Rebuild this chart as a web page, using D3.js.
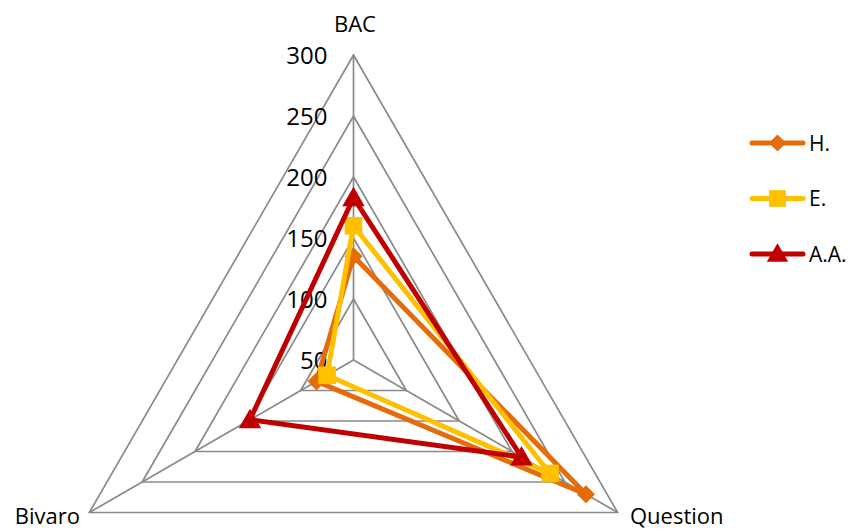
<!DOCTYPE html>
<html>
<head>
<meta charset="utf-8">
<script src="https://cdn.jsdelivr.net/npm/d3@7"></script>
<style>
  html, body { margin: 0; padding: 0; background: #fff; }
  svg { display: block; }
  text { font-family: "Open Sans", "DejaVu Sans", sans-serif; fill: #000; }
</style>
</head>
<body>
<svg id="chart" width="856" height="531"></svg>
<script>
// ---- data ----
const axes = ["BAC", "Question", "Bivaro"];
const seriesNames = ["H.", "E.", "A.A."];
const seriesH = [135, 270, 85];
const seriesE = [160, 236, 75];
const seriesAA = [183, 209, 148];
const tickValues = [50, 100, 150, 200, 250, 300];

// ---- styles ----
const colors = ["#E46C0A", "#FFC000", "#C00000"];
const symbols = [d3.symbolDiamond2, d3.symbolSquare, d3.symbolTriangle];
const symbolSizes = [210, 310, 220];

const svg = d3.select("#chart");
const cx = 353.5, cy = 360, R = 305;
const r = d3.scaleLinear().domain([50, 300]).range([0, R]);
const angle = d3.scaleOrdinal().domain(axes).range(axes.map((d, i) => -Math.PI / 2 + i * 2 * Math.PI / 3));

function pt(axis, v) {
  const a = angle(axis);
  return [cx + r(v) * Math.cos(a), cy + r(v) * Math.sin(a)];
}

const g = svg.append("g");

// rings
tickValues.slice(1).forEach(t => {
  const pts = axes.map(a => pt(a, t));
  g.append("path")
    .attr("d", d3.line()(pts) + "Z")
    .attr("fill", "none")
    .attr("stroke", "#8A8A8A")
    .attr("stroke-width", 1.7);
});
// spokes
axes.forEach(a => {
  const p = pt(a, 300);
  g.append("line")
    .attr("x1", cx).attr("y1", cy)
    .attr("x2", p[0]).attr("y2", p[1])
    .attr("stroke", "#8A8A8A")
    .attr("stroke-width", 1.7);
});

// tick labels
tickValues.forEach(t => {
  g.append("text")
    .attr("x", cx - 26)
    .attr("y", cy - r(t))
    .attr("dy", "0.36em")
    .attr("text-anchor", "end")
    .attr("font-size", 24)
    .text(t);
});

// axis labels
const labelPos = {
  "BAC": { x: 355, y: 32, anchor: "middle" },
  "Question": { x: 630, y: 524, anchor: "start" },
  "Bivaro": { x: 80, y: 524, anchor: "end" }
};
axes.forEach(a => {
  const lp = labelPos[a];
  g.append("text")
    .attr("x", lp.x).attr("y", lp.y)
    .attr("text-anchor", lp.anchor)
    .attr("font-size", 22)
    .text(a);
});

// series
const allSeries = [seriesH, seriesE, seriesAA];
allSeries.forEach((vals, si) => {
  const pts = axes.map((a, i) => pt(a, vals[i]));
  g.append("path")
    .attr("d", d3.line()(pts) + "Z")
    .attr("fill", "none")
    .attr("stroke", colors[si])
    .attr("stroke-width", 5)
    .attr("stroke-linejoin", "round");
  pts.forEach(p => {
    g.append("path")
      .attr("d", d3.symbol().type(symbols[si]).size(symbolSizes[si])())
      .attr("transform", `translate(${p[0]},${p[1] + (si === 2 ? 2 : 0)})`)
      .attr("fill", colors[si]);
  });
});

// legend
const legendY = d3.scalePoint().domain(seriesNames).range([143, 254]);
seriesNames.forEach((name, si) => {
  const y = legendY(name);
  const lg = svg.append("g");
  lg.append("line")
    .attr("x1", 752).attr("x2", 803)
    .attr("y1", y).attr("y2", y)
    .attr("stroke", colors[si])
    .attr("stroke-width", 5)
    .attr("stroke-linecap", "round");
  lg.append("path")
    .attr("d", d3.symbol().type(symbols[si]).size(symbolSizes[si] * 0.9)())
    .attr("transform", `translate(777.5,${y + (si === 2 ? 1.5 : 0)})`)
    .attr("fill", colors[si]);
  lg.append("text")
    .attr("x", 809).attr("y", y)
    .attr("dy", "0.36em")
    .attr("font-size", 21)
    .text(name);
});
</script>
</body>
</html>
